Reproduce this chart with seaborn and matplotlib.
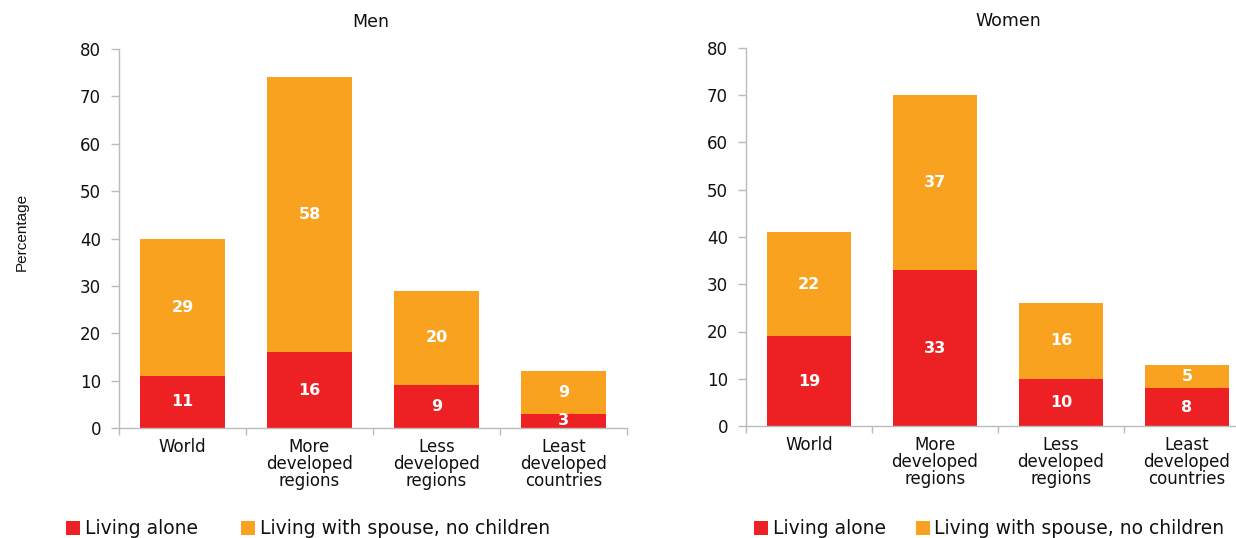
import numpy as np
import pandas as pd
import matplotlib
matplotlib.use("Agg")
import matplotlib.pyplot as plt
import seaborn as sns
from matplotlib.patches import Patch

categories = ["World", "More\ndeveloped\nregions", "Less\ndeveloped\nregions", "Least\ndeveloped\ncountries"]
men_alone = [11, 16, 9, 3]
men_spouse = [29, 58, 20, 9]
women_alone = [19, 33, 10, 8]
women_spouse = [22, 37, 16, 5]

red = "#ED2024"
orange = "#F8A21F"
ink = "#111111"

sns.set_theme(style="white")
plt.rcParams["font.family"] = ["DejaVu Sans"]
plt.rcParams["text.color"] = ink

fig = plt.figure(figsize=(12.36, 5.38), dpi=100)
ax1 = fig.add_axes([119/1236, 1-428/538, 508/1236, 379/538])
ax2 = fig.add_axes([746/1236, 1-426/538, 504/1236, 378/538])


def draw(ax, alone, spouse, title, title_x):
    df = pd.DataFrame({"cat": categories,
                       "alone": alone,
                       "total": np.array(alone) + np.array(spouse)})
    sns.barplot(data=df, x="cat", y="total", color=orange, width=0.67,
                saturation=1, linewidth=0, edgecolor="none", ax=ax)
    sns.barplot(data=df, x="cat", y="alone", color=red, width=0.67,
                saturation=1, linewidth=0, edgecolor="none", ax=ax)
    for i, (a, s) in enumerate(zip(alone, spouse)):
        ax.text(i, a / 2, str(a), ha="center", va="center", color="white",
                fontsize=11.5, fontweight="bold")
        ax.text(i, a + s / 2, str(s), ha="center", va="center", color="white",
                fontsize=11.5, fontweight="bold")
    ax.set_ylim(0, 80)
    ax.set_xlim(-0.5, 3.5)
    ax.set_yticks(range(0, 81, 10))
    ax.set_xlabel("")
    ax.set_ylabel("")
    ax.set_title(title, fontsize=12.5, pad=16, x=title_x, color=ink)
    ax.tick_params(axis="y", labelsize=12, length=6, color="#BBBBBB",
                   labelcolor=ink, width=1, direction="out", left=True, pad=7)
    ax.tick_params(axis="x", labelsize=12, length=0, pad=7, labelcolor=ink)
    ax.set_xticks(range(4))
    ax.set_xticklabels(categories, linespacing=0.95)
    # category separator ticks on the x-axis
    ax.set_xticks(np.arange(-0.5, 4.0, 1.0), minor=True)
    ax.tick_params(axis="x", which="minor", length=5, color="#BBBBBB",
                   width=1, bottom=True)
    for side in ["top", "right"]:
        ax.spines[side].set_visible(False)
    for side in ["left", "bottom"]:
        ax.spines[side].set_color("#BBBBBB")
        ax.spines[side].set_linewidth(1)


draw(ax1, men_alone, men_spouse, "Men", 0.495)
draw(ax2, women_alone, women_spouse, "Women", 0.52)

fig.text(22/1236, 1-232/538, "Percentage", rotation=90, ha="center",
         va="center", fontsize=11, color=ink,
         family=["Liberation Sans Narrow", "Liberation Sans", "DejaVu Sans"])

handles = [Patch(facecolor=red, edgecolor="none", label="Living alone"),
           Patch(facecolor=orange, edgecolor="none",
                 label="Living with spouse, no children")]
for x0, colsp in [(66/1236, 2.3), (754/1236, 1.6)]:
    leg = fig.legend(handles=handles, loc="center left",
                     bbox_to_anchor=(x0, 1-529/538), ncol=2, frameon=False,
                     fontsize=13.5, handlelength=0.75, handleheight=0.75,
                     handletextpad=0.25, columnspacing=colsp,
                     borderaxespad=0, borderpad=0)
    for t in leg.get_texts():
        t.set_color(ink)

fig.savefig("out.png", dpi=100)
